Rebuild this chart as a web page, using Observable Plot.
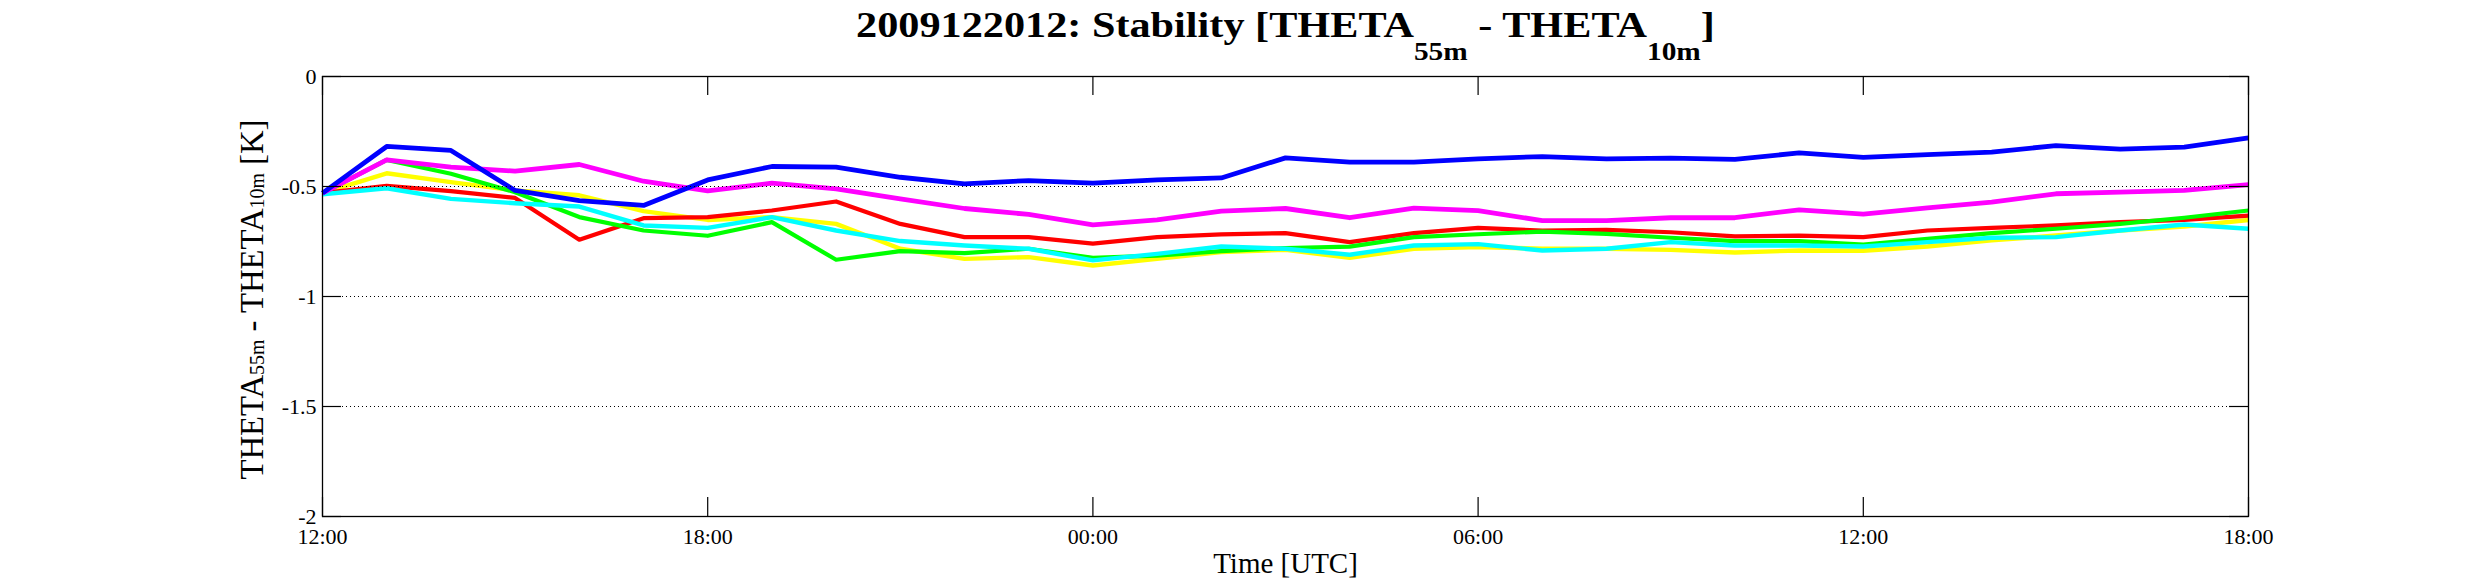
<!DOCTYPE html>
<html><head><meta charset="utf-8">
<script src="https://cdn.jsdelivr.net/npm/d3@7"></script>
<script src="https://cdn.jsdelivr.net/npm/@observablehq/plot@0.6"></script>
<style>html,body{margin:0;padding:0;background:#fff}</style>
</head><body><div id="chart"></div>
<script>
// hours since 2009-12-20 12:00 UTC
const hours = [0,1,2,3,4,5,6,7,8,9,10,11,12,13,14,15,16,17,18,19,20,21,22,23,24,25,26,27,28,29,30];
const xTicks = [0,6,12,18,24,30];
const xTickLabels = ["12:00","18:00","00:00","06:00","12:00","18:00"];
const yTicks = [0,-0.5,-1,-1.5,-2];
const yGrid = [-0.5,-1,-1.5];
const titleText = "2009122012: Stability [THETA55m - THETA10m]";
const yLabelText = "THETA55m - THETA10m [K]";
const xLabelText = "Time [UTC]";

const yellow  = [-0.53,-0.44,-0.48,-0.518,-0.54,-0.612,-0.652,-0.639,-0.67,-0.783,-0.829,-0.821,-0.859,-0.829,-0.798,-0.788,-0.824,-0.783,-0.775,-0.783,-0.783,-0.788,-0.80,-0.791,-0.792,-0.773,-0.745,-0.723,-0.70,-0.682,-0.652];
const red     = [-0.53,-0.497,-0.521,-0.552,-0.742,-0.644,-0.639,-0.609,-0.568,-0.67,-0.73,-0.73,-0.76,-0.73,-0.718,-0.712,-0.753,-0.712,-0.688,-0.70,-0.697,-0.708,-0.727,-0.723,-0.73,-0.70,-0.688,-0.677,-0.662,-0.652,-0.632];
const green   = [-0.53,-0.379,-0.442,-0.526,-0.639,-0.70,-0.724,-0.662,-0.833,-0.794,-0.803,-0.783,-0.824,-0.814,-0.794,-0.78,-0.773,-0.73,-0.717,-0.705,-0.715,-0.733,-0.748,-0.748,-0.764,-0.738,-0.712,-0.692,-0.67,-0.642,-0.609];
const cyan    = [-0.535,-0.508,-0.556,-0.576,-0.591,-0.677,-0.688,-0.639,-0.70,-0.748,-0.768,-0.783,-0.836,-0.806,-0.773,-0.783,-0.81,-0.768,-0.762,-0.791,-0.783,-0.753,-0.768,-0.768,-0.773,-0.753,-0.733,-0.73,-0.70,-0.673,-0.692];
const magenta = [-0.53,-0.379,-0.412,-0.43,-0.40,-0.476,-0.52,-0.485,-0.511,-0.556,-0.60,-0.627,-0.674,-0.652,-0.612,-0.60,-0.642,-0.598,-0.61,-0.655,-0.655,-0.642,-0.642,-0.606,-0.626,-0.597,-0.571,-0.533,-0.526,-0.518,-0.491];
const blue    = [-0.53,-0.318,-0.336,-0.518,-0.564,-0.586,-0.47,-0.409,-0.412,-0.458,-0.488,-0.473,-0.485,-0.47,-0.461,-0.37,-0.389,-0.389,-0.374,-0.364,-0.374,-0.371,-0.377,-0.347,-0.368,-0.355,-0.344,-0.314,-0.33,-0.321,-0.279];

const series = [
  {color:"#ffff00", values:yellow,  w:4.4},
  {color:"#ff0000", values:red,     w:4.2},
  {color:"#00ff00", values:green,   w:4.2},
  {color:"#00ffff", values:cyan,    w:4.4},
  {color:"#ff00ff", values:magenta, w:4.8},
  {color:"#0000ff", values:blue,    w:4.8}
];

const W = 2485, H = 584;
const mL = 322, mR = 237, mT = 76, mB = 68;
const innerW = W - mL - mR, innerH = H - mT - mB;
const tick = 19;

const lineMarks = series.map(s =>
  Plot.line(hours.map((h,i) => ({h, v: s.values[i]})), {
    x: "h", y: "v", stroke: s.color, strokeWidth: s.w, strokeLinejoin: "round", strokeLinecap: "butt"
  })
);

const plot = Plot.plot({
  width: W, height: H,
  marginLeft: mL, marginRight: mR, marginTop: mT, marginBottom: mB,
  x: {domain: [0, 30], axis: null},
  y: {domain: [-2, 0], axis: null},
  style: {fontFamily: "'Liberation Serif', 'Times New Roman', serif", color: "black", background: "white", overflow: "visible"},
  marks: [
    ...lineMarks,
    Plot.ruleY(yGrid, {y: d => d, stroke: "black", strokeWidth: 1, strokeDasharray: "1,3"}),
    Plot.ruleX(xTicks, {x: d => d, insetTop: innerH - tick, stroke: "black", strokeWidth: 1.2}),
    Plot.ruleX(xTicks, {x: d => d, insetBottom: innerH - tick, stroke: "black", strokeWidth: 1.2}),
    Plot.ruleY(yTicks, {y: d => d, insetRight: innerW - tick, stroke: "black", strokeWidth: 1.2}),
    Plot.ruleY(yTicks, {y: d => d, insetLeft: innerW - tick, stroke: "black", strokeWidth: 1.2}),
    Plot.frame({stroke: "black", strokeWidth: 1.3}),
    Plot.text(xTicks.map((h,i) => ({h, label: xTickLabels[i]})), {
      x: "h", text: "label", frameAnchor: "bottom", lineAnchor: "bottom", dy: 27, fontSize: 22, fill: "black"
    }),
    Plot.text(yTicks, {
      y: d => d, text: d => String(d), frameAnchor: "left", textAnchor: "end", lineAnchor: "middle", dx: -6, fontSize: 22, fill: "black"
    }),
    Plot.text([xLabelText], {frameAnchor: "bottom", textAnchor: "middle", lineAnchor: "bottom", dy: 56, fontSize: 29, fill: "black"}),
    Plot.text([yLabelText], {frameAnchor: "left", textAnchor: "middle", rotate: -90, lineAnchor: "bottom", dx: -60, dy: 3, fontSize: 33, fill: "black"}),
    Plot.text([titleText], {frameAnchor: "top", textAnchor: "middle", lineAnchor: "bottom", dy: -40, fontSize: 36, fontWeight: "bold", fill: "black"})
  ]
});

document.getElementById("chart").appendChild(plot);

function findText(str) {
  return Array.from(plot.querySelectorAll("text")).find(t => t.textContent === str);
}

// Rebuild a label with real subscript tspans, then scale it along one axis
// so its overall length matches the reference.
function subscriptify(textEl, parts, subSize, shift, target, axis) {
  if (!textEl) return;
  const ns = "http://www.w3.org/2000/svg";
  while (textEl.firstChild) textEl.removeChild(textEl.firstChild);
  let down = false;
  parts.forEach(p => {
    const t = document.createElementNS(ns, "tspan");
    t.textContent = p.t;
    if (p.sub) { t.setAttribute("font-size", subSize); t.setAttribute("dy", shift); down = true; }
    else if (down) { t.setAttribute("dy", -shift); down = false; }
    textEl.appendChild(t);
  });
  textEl.setAttribute("xml:space", "preserve");
  const svgRect = plot.getBoundingClientRect();
  const r = textEl.getBoundingClientRect();
  const g = document.createElementNS(ns, "g");
  textEl.parentNode.insertBefore(g, textEl);
  g.appendChild(textEl);
  if (axis === "x") {
    const cx = r.x - svgRect.x + r.width / 2;
    const s = target / r.width;
    g.setAttribute("transform", `translate(${cx},0) scale(${s},1) translate(${-cx},0)`);
  } else {
    const cy = r.y - svgRect.y + r.height / 2;
    const s = target / r.height;
    g.setAttribute("transform", `translate(0,${cy}) scale(1,${s}) translate(0,${-cy})`);
  }
}

subscriptify(findText(titleText), [
  {t: "2009122012: Stability [THETA"}, {t: "55m", sub: true}, {t: " - THETA"}, {t: "10m", sub: true}, {t: "]"}
], 25, 24, 859, "x");

subscriptify(findText(yLabelText), [
  {t: "THETA"}, {t: "55m", sub: true}, {t: " - THETA"}, {t: "10m", sub: true}, {t: " [K]"}
], 20, 1, 360, "y");
</script>
</body></html>
